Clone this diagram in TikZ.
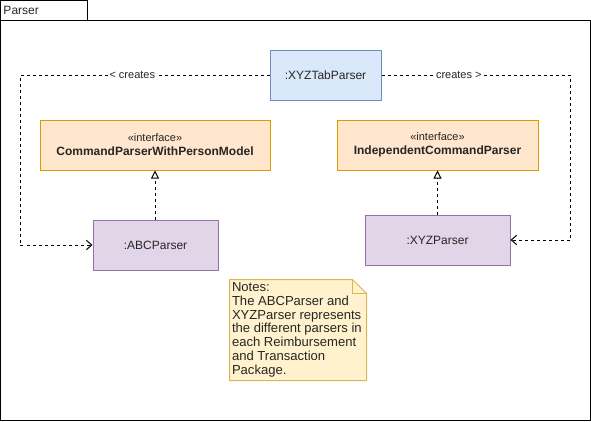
\documentclass[tikz,border=0pt]{standalone}
\usepackage{fontspec}
\setmainfont{Liberation Sans}
\usetikzlibrary{arrows.meta}
\definecolor{tabfill}{HTML}{DAE8FC}
\definecolor{tabline}{HTML}{6C8EBF}
\definecolor{iffill}{HTML}{FFE6CC}
\definecolor{ifline}{HTML}{D79B00}
\definecolor{clsfill}{HTML}{E1D5E7}
\definecolor{clsline}{HTML}{9673A6}
\definecolor{notefill}{HTML}{FFF2CC}
\definecolor{noteline}{HTML}{D6B656}
\begin{document}
\begin{tikzpicture}[x=0.75pt,y=-0.75pt,
  line width=0.75pt,
  every node/.style={font=\fontsize{9pt}{10.5pt}\selectfont, text=black!85},
  box/.style={draw, rectangle, minimum height=37.5pt, inner sep=0pt, align=center},
  tabparser/.style={box, fill=tabfill, draw=tabline},
  iface/.style={box, fill=iffill, draw=ifline},
  cls/.style={box, fill=clsfill, draw=clsline},
  dep/.style={dash pattern=on 2.25pt off 2.25pt, -{Straight Barb[length=4pt,width=7pt]}},
  realize/.style={dash pattern=on 2.25pt off 2.25pt, -{Triangle[open,length=6pt,width=6pt,fill=white]}},
  edgelabel/.style={fill=white, inner sep=1pt, font=\fontsize{8.25pt}{10pt}\selectfont}
]
\useasboundingbox (0,0) rectangle (591,421);

% package frame with its tab
\draw (0,20) rectangle (590,420);
\node[draw, rectangle, anchor=north west, minimum width=65.25pt, minimum height=15pt, inner sep=0pt] (pkgtab) at (0,0) {};
\node[anchor=west, inner sep=0pt] (pkgname) at (3,10) {Parser};

% parsers
\node[tabparser, minimum width=83.25pt] (tab) at (325.5,75) {:XYZTabParser};
\node[iface, minimum width=172.5pt] (cpm) at (155,145)
  {{\fontsize{8.25pt}{10pt}\selectfont «interface»}\\\textbf{CommandParserWithPersonModel}};
\node[iface, minimum width=150.75pt] (icp) at (437.5,145)
  {{\fontsize{8.25pt}{10pt}\selectfont «interface»}\\\textbf{IndependentCommandParser}};
\node[cls, minimum width=93.75pt] (abc) at (155.5,245) {:ABCParser};
\node[cls, minimum width=108.75pt] (xyz) at (437.5,240) {:XYZParser};

% creation dependencies
\coordinate (lc) at (20,75);
\coordinate (rc) at (570,75);
\draw[dep] (tab.west) -- node[edgelabel, pos=0.55] {< creates} (lc) |- (abc.west);
\draw[dep] (tab.east) -- node[edgelabel, pos=0.41] {creates >} (rc) |- (xyz.east);

% interface realizations
\draw[realize] (abc.north -| cpm.south) -- (cpm.south);
\draw[realize] (xyz.north) -- (icp.south);

% note
\node[minimum width=102pt, minimum height=75pt, inner sep=0pt] (note) at (298,330) {};
\draw[fill=notefill, draw=noteline]
  (note.north west) -- ([xshift=-10.5pt]note.north east) -- ([yshift=-10.5pt]note.north east)
  -- (note.south east) -- (note.south west) -- cycle;
\draw[draw=noteline] ([xshift=-10.5pt]note.north east) -- ([xshift=-10.5pt,yshift=-10.5pt]note.north east)
  -- ([yshift=-10.5pt]note.north east);
\node[anchor=north west, inner sep=0pt, align=left,
  font=\fontsize{9.8pt}{10.3pt}\selectfont] (notetext) at ([xshift=1.5pt,yshift=-2pt]note.north west)
  {Notes:\\The ABCParser and\\XYZParser represents\\the different parsers in\\each Reimbursement\\and Transaction\\Package.};
\end{tikzpicture}
\end{document}
